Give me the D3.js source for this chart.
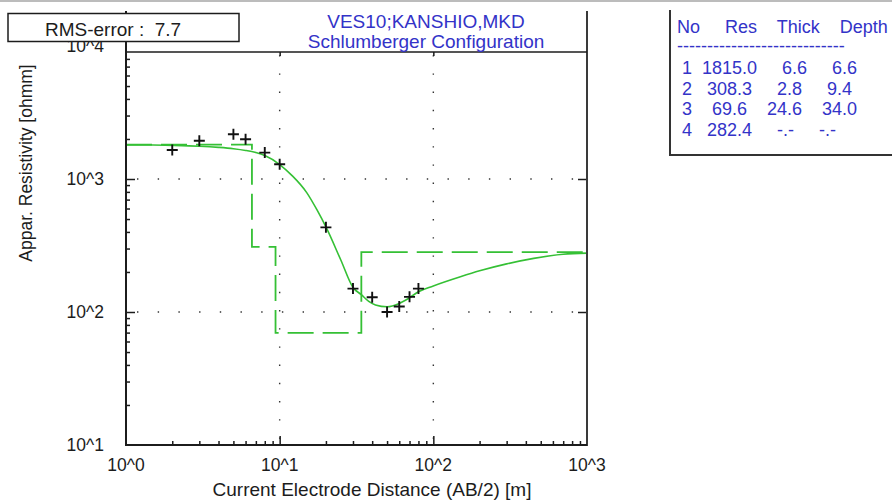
<!DOCTYPE html>
<html>
<head>
<meta charset="utf-8">
<script src="https://cdn.jsdelivr.net/npm/d3@7"></script>
<style>
  html, body { margin: 0; padding: 0; background: #ffffff; }
  svg { display: block; font-family: "Liberation Sans", Arial, sans-serif; }
  .pre { white-space: pre; }
</style>
</head>
<body>
<svg id="chart" width="892" height="500"></svg>
<script>
// VES10 sounding: measured apparent resistivity, fitted curve and layered model

// Measured points (AB/2 in m, apparent resistivity in ohm·m)
const abHalf = [2, 3, 5, 6, 8, 10, 20, 30, 40, 50, 60, 70, 80];
const rhoMeasured = [1650, 1940, 2170, 1990, 1580, 1290, 433, 150, 129, 100, 110, 130, 150];

// Fitted sounding curve
const curveAB = [1, 1.5, 2, 3, 4, 5, 6, 7, 8, 10, 12, 15, 17.5, 20, 25, 30, 34, 38, 42, 50, 60, 70, 80, 100, 150, 200, 300, 450, 700, 1000];
const curveRho = [1805, 1800, 1790, 1765, 1730, 1690, 1640, 1580, 1500, 1285, 1065, 790, 585, 436, 246, 153, 135, 120, 113, 109.5, 116, 128, 142, 157, 184, 204, 230, 253, 272, 277];

// Layered model
const layerNo = [1, 2, 3, 4];
const layerRes = [1815.0, 308.3, 69.6, 282.4];
const layerThick = [6.6, 2.8, 24.6, null];
const layerDepth = [6.6, 9.4, 34.0, null];

// Axes
const xTickValues = [1, 10, 100, 1000];
const xTickLabels = ["10^0", "10^1", "10^2", "10^3"];
const yTickValues = [10, 100, 1000, 10000];
const yTickLabels = ["10^1", "10^2", "10^3", "10^4"];
const xAxisTitle = "Current Electrode Distance (AB/2) [m]";
const yAxisTitle = "Appar. Resistivity [ohmm]";
const titleLines = ["VES10;KANSHIO,MKD", "Schlumberger Configuration"];
const rmsError = 7.7;

const svg = d3.select("#chart");
const left = 126, right = 587, bottom = 445, frameTop = 52;
const x = d3.scaleLog().domain([1, 1000]).range([left, right]);
const y = d3.scaleLog().domain([10, 10000]).range([bottom, 46]);

const ink = "#1c1c1c";
const blue = "#3333c8";
const green = "#35c035";

// thin gray strip along the top edge
svg.append("rect").attr("x", 0).attr("y", 0).attr("width", 892).attr("height", 2).attr("fill", "#bcbcbc");

// dotted grid on the decades
const gridX = xTickValues.slice(1, -1);
const gridY = yTickValues.slice(1, -1);
svg.append("g").selectAll("line").data(gridY).join("line")
  .attr("x1", left).attr("x2", right)
  .attr("y1", d => y(d)).attr("y2", d => y(d))
  .attr("stroke", "#333").attr("stroke-width", 1.4)
  .attr("stroke-dasharray", "1.4 19.3").attr("stroke-dashoffset", 9.7);
svg.append("g").selectAll("line").data(gridX).join("line")
  .attr("x1", d => x(d)).attr("x2", d => x(d))
  .attr("y1", frameTop).attr("y2", bottom)
  .attr("stroke", "#333").attr("stroke-width", 1.4)
  .attr("stroke-dasharray", "1.4 16.8").attr("stroke-dashoffset", 15);

// minor tick values for each decade
const minorOf = dom => {
  const out = [];
  for (let p = Math.log10(dom[0]); p < Math.log10(dom[1]); p++)
    for (let k = 2; k <= 9; k++) out.push(k * Math.pow(10, p));
  return out;
};

function styleAxis(g) {
  g.select(".domain").remove();
  g.selectAll("line").attr("stroke", ink).attr("stroke-width", 1.5);
}

svg.append("g").attr("transform", `translate(0,${bottom})`)
  .call(d3.axisBottom(x).tickValues(minorOf(x.domain())).tickSize(-4).tickFormat(""))
  .call(styleAxis);
svg.append("g").attr("transform", `translate(0,${bottom})`)
  .call(d3.axisBottom(x).tickValues(gridX).tickSize(-9).tickFormat(""))
  .call(styleAxis);
svg.append("g").attr("transform", `translate(0,${frameTop})`)
  .call(d3.axisTop(x).tickValues(gridX).tickSize(-4).tickFormat(""))
  .call(styleAxis);
svg.append("g").attr("transform", `translate(${left},0)`)
  .call(d3.axisLeft(y).tickValues(minorOf(y.domain()).filter(v => y(v) > frameTop + 1)).tickSize(-4).tickFormat(""))
  .call(styleAxis);
svg.append("g").attr("transform", `translate(${left},0)`)
  .call(d3.axisLeft(y).tickValues(gridY).tickSize(-9).tickFormat(""))
  .call(styleAxis);
svg.append("g").attr("transform", `translate(${right},0)`)
  .call(d3.axisRight(y).tickValues(gridY).tickSize(-9).tickFormat(""))
  .call(styleAxis);

// clip for plotted series
svg.append("clipPath").attr("id", "plotClip")
  .append("rect").attr("x", left).attr("y", frameTop).attr("width", right - left).attr("height", bottom - frameTop);
const plot = svg.append("g").attr("clip-path", "url(#plotClip)");

// layered model as a dashed step line
const modelPts = [[x.domain()[0], layerRes[0]]];
layerDepth.forEach((d, i) => { if (d !== null) modelPts.push([d, layerRes[i + 1]]); });
modelPts.push([x.domain()[1], layerRes[layerRes.length - 1]]);
plot.append("path")
  .attr("d", d3.line().x(d => x(d[0])).y(d => y(d[1])).curve(d3.curveStepAfter)(modelPts))
  .attr("fill", "none").attr("stroke", green).attr("stroke-width", 1.8)
  .attr("stroke-dasharray", "26 9");

// fitted curve
plot.append("path")
  .attr("d", d3.line().x((d, i) => x(curveAB[i])).y(d => y(d)).curve(d3.curveMonotoneX)(curveRho))
  .attr("fill", "none").attr("stroke", green).attr("stroke-width", 1.6);

// measured points as plus signs
plot.append("g").selectAll("path").data(abHalf).join("path")
  .attr("transform", (d, i) => `translate(${x(d)},${y(rhoMeasured[i])})`)
  .attr("d", "M-5.5,0H5.5M0,-5.5V5.5")
  .attr("stroke", "#111").attr("stroke-width", 1.9).attr("fill", "none");

// frame
const frame = svg.append("g").attr("stroke", ink).attr("fill", "none");
frame.append("line").attr("x1", left).attr("x2", left).attr("y1", 11).attr("y2", bottom + 1).attr("stroke-width", 2);
frame.append("line").attr("x1", right).attr("x2", right).attr("y1", 11).attr("y2", bottom + 1).attr("stroke-width", 2).attr("stroke", "#3a3a3a");
frame.append("line").attr("x1", left).attr("x2", right).attr("y1", bottom).attr("y2", bottom).attr("stroke-width", 2);
frame.append("line").attr("x1", left).attr("x2", right).attr("y1", frameTop).attr("y2", frameTop).attr("stroke-width", 1.5);

// tick labels
svg.append("g").selectAll("text").data(xTickValues).join("text")
  .attr("x", d => x(d)).attr("y", 471)
  .attr("text-anchor", "middle").attr("font-size", 17.5).attr("fill", ink)
  .text((d, i) => xTickLabels[i]);
svg.append("g").selectAll("text").data(yTickValues).join("text")
  .attr("x", 104).attr("y", d => y(d)).attr("dy", "0.36em")
  .attr("text-anchor", "end").attr("font-size", 17.5).attr("fill", ink)
  .text((d, i) => yTickLabels[i]);

// axis titles
svg.append("text").attr("x", 372).attr("y", 496)
  .attr("text-anchor", "middle").attr("font-size", 19).attr("fill", ink).text(xAxisTitle);
svg.append("text").attr("transform", "translate(31.5,163) rotate(-90)")
  .attr("text-anchor", "middle").attr("font-size", 17.5).attr("fill", ink).text(yAxisTitle);

// RMS box
svg.append("rect").attr("x", 8).attr("y", 13.5).attr("width", 231).attr("height", 28)
  .attr("fill", "#fff").attr("stroke", ink).attr("stroke-width", 1.5);
svg.append("text").attr("class", "pre").attr("x", 45).attr("y", 36)
  .attr("font-size", 19).attr("fill", ink).text(`RMS-error :  ${rmsError.toFixed(1)}`);

// title
svg.append("g").selectAll("text").data(titleLines).join("text")
  .attr("x", 426).attr("y", (d, i) => 28 + i * 20)
  .attr("text-anchor", "middle").attr("font-size", 19).attr("fill", blue)
  .text(d => d);

// model table
const tbl = svg.append("g");
tbl.append("path").attr("d", "M670,10V155H892").attr("fill", "none").attr("stroke", "#333").attr("stroke-width", 2);
const pad = (s, n) => s.padStart(n, " ");
const fmt = v => v === null ? "-.-" : v.toFixed(1);
const rows = layerNo.map((n, i) => pad(String(n), 2) + pad(fmt(layerRes[i]), 8) + pad(fmt(layerThick[i]), 8) + pad(fmt(layerDepth[i]), 8));
const tableLines = ["No     Res    Thick    Depth", "-".repeat(28)].concat(rows);
const lineY = [33, 52, 74, 94.5, 115, 136];
tbl.selectAll("text").data(tableLines).join("text")
  .attr("class", "pre").attr("x", 677).attr("y", (d, i) => lineY[i])
  .attr("font-size", 18).attr("fill", blue)
  .text(d => d);
</script>
</body>
</html>
